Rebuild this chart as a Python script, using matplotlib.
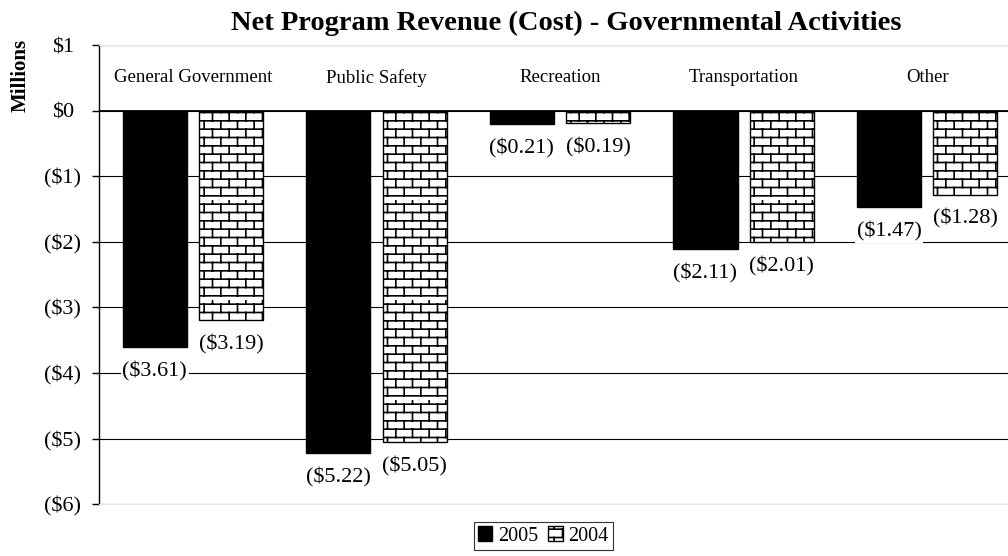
import matplotlib
matplotlib.use("Agg")
import matplotlib.pyplot as plt
import numpy as np
from matplotlib import hatch as mhatch
from matplotlib.path import Path

categories = ["General Government", "Public Safety", "Recreation", "Transportation", "Other"]
rev_2005 = [-3.61, -5.22, -0.21, -2.11, -1.47]
rev_2004 = [-3.19, -5.05, -0.19, -2.01, -1.28]
years = ["2005", "2004"]
y_ticks = [1, 0, -1, -2, -3, -4, -5, -6]


# brick hatch, Excel style -- matplotlib has none, so register one
class BrickHatch(mhatch.HatchPatternBase):
    def __init__(self, hatch, density):
        self.rows = 12 if "B" in hatch else 0
        self.cols = 6
        self.num_vertices = self.rows * 2 + self.rows * self.cols * 2

    def set_vertices_and_codes(self, vertices, codes):
        k = 0
        for i in range(self.rows):
            y = (i + 0.5) / self.rows
            vertices[k] = (0.0, y)
            vertices[k + 1] = (1.0, y)
            codes[k] = Path.MOVETO
            codes[k + 1] = Path.LINETO
            k += 2
        for i in range(self.rows):
            y0 = (i + 0.5) / self.rows
            y1 = (i + 1.5) / self.rows
            for j in range(self.cols):
                x = (j + 0.25 + 0.5 * (i % 2)) / self.cols
                vertices[k] = (x, y0)
                vertices[k + 1] = (x, y1)
                codes[k] = Path.MOVETO
                codes[k + 1] = Path.LINETO
                k += 2


mhatch._hatch_types.append(BrickHatch)
mhatch._validate_hatch_pattern = lambda h: None

plt.rcParams["font.family"] = ["Liberation Serif", "DejaVu Serif"]
plt.rcParams["hatch.linewidth"] = 1.2

fig = plt.figure(figsize=(10.08, 5.56), dpi=100)
ax = fig.add_axes([99 / 1008, 1 - 504.3 / 556, (1008 - 99) / 1008, (504.3 - 45) / 556])

x = np.arange(len(categories))
w = 0.349
off = 0.208
b1 = ax.bar(x - off, rev_2005, w, color="black", edgecolor="black", lw=1, label=years[0], zorder=3)
b2 = ax.bar(x + off, rev_2004, w, color="white", edgecolor="black", lw=1, hatch="B",
            label=years[1], zorder=3)

ax.set_xlim(-0.512, 4.44)
ax.set_ylim(-6, 1)
ax.set_yticks(y_ticks)
ax.set_yticklabels([f"${v}" if v >= 0 else f"(${-v})" for v in y_ticks])
ax.set_xticks([])
ax.tick_params(axis="y", direction="out", length=5, width=1, labelsize=16, pad=21)
for lab in ax.get_yticklabels():
    lab.set_horizontalalignment("center")

ax.grid(axis="y", color="black", lw=0.8, zorder=1)
ax.axhline(0, color="black", lw=1.3, zorder=4)
ax.spines["right"].set_visible(False)
ax.spines["top"].set_color("#e6e6e6")
ax.spines["bottom"].set_color("#e6e6e6")
ax.spines["left"].set_linewidth(1)

for i, c in enumerate(categories):
    ax.text(i, 0.5, c, ha="center", va="center", fontsize=13.5)

for bars, vals in [(b1, rev_2005), (b2, rev_2004)]:
    for rect, v in zip(bars, vals):
        ax.annotate(f"(${abs(v):.2f})", xy=(rect.get_x() + rect.get_width() / 2, v),
                    xytext=(0, -17.5), textcoords="offset points", ha="center", va="center",
                    fontsize=16, zorder=5,
                    bbox=dict(fc="white", ec="none", pad=1))

ax.set_title("Net Program Revenue (Cost) - Governmental Activities", fontsize=20.5,
             fontweight="bold", pad=11, x=0.514)
fig.text(21 / 1008, 1 - 75 / 556, "Millions", rotation=90, ha="center", va="center",
         fontsize=15, fontweight="bold")

fig.legend(handles=[b1, b2], labels=years, loc="center", ncol=2,
           bbox_to_anchor=(543.5 / 1008, 1 - 536 / 556), fontsize=14.5, frameon=True,
           fancybox=False, edgecolor="black", handlelength=0.7, handleheight=0.7,
           handletextpad=0.3, columnspacing=0.5, borderpad=0.2, borderaxespad=0)
fig.legends[0].get_frame().set_linewidth(0.8)

fig.savefig("out.png", dpi=100)
